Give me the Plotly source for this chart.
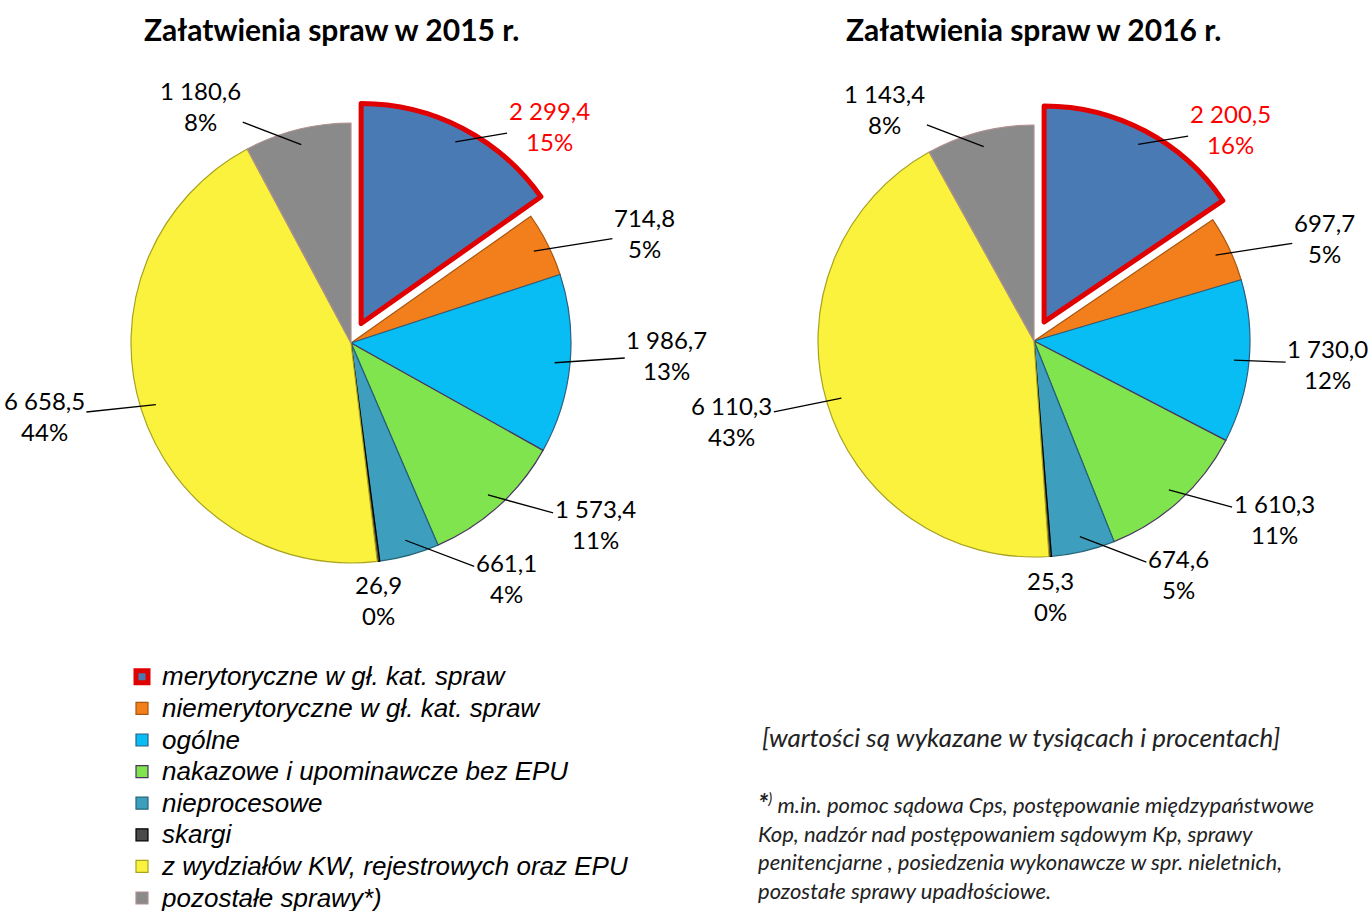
import math
import plotly.graph_objects as go

# ---------------- data ----------------
categories = [
    "merytoryczne w gł. kat. spraw",
    "niemerytoryczne w gł. kat. spraw",
    "ogólne",
    "nakazowe i upominawcze bez EPU",
    "nieprocesowe",
    "skargi",
    "z wydziałów KW, rejestrowych oraz EPU",
    "pozostałe sprawy*)",
]
values_2015 = [2299.4, 714.8, 1986.7, 1573.4, 661.1, 26.9, 6658.5, 1180.6]
values_2016 = [2200.5, 697.7, 1730.0, 1610.3, 674.6, 25.3, 6110.3, 1143.4]
percent_2015 = [15, 5, 13, 11, 4, 0, 44, 8]
percent_2016 = [16, 5, 12, 11, 5, 0, 43, 8]
titles = ["Załatwienia spraw w 2015 r.", "Załatwienia spraw w 2016 r."]
note_units = "[wartości są wykazane w tysiącach i procentach]"
note_lines = [
    "m.in. pomoc sądowa Cps, postępowanie międzypaństwowe",
    "Kop, nadzór nad postępowaniem sądowym Kp, sprawy",
    "penitencjarne , posiedzenia wykonawcze w spr. nieletnich,",
    "pozostałe sprawy upadłościowe.",
]

# ---------------- style ----------------
colors = ["#4a7ab4", "#f27f1b", "#08bdf4", "#7fe44e", "#3d9fbd", "#4a4a4a", "#fbf23e", "#8a8a8a"]
line_colors = ["#e00000", "#a9560f", "#2f5f80", "#4a3560", "#24657a", "#000000", "#a8a21c", "#b09090"]
line_widths = [5, 1.2, 1.2, 1.2, 1.2, 1.2, 1.2, 1.2]
pulls = [0.1, 0, 0, 0, 0, 0, 0, 0]
W, H = 1372, 911
FONT = "Lato"
LABEL_SIZE = 24

pies = [
    dict(values=values_2015, pct=percent_2015, cx=351, cy=343, r=220, title_x=331),
    dict(values=values_2016, pct=percent_2016, cx=1034, cy=341, r=216, title_x=1033),
]


def fmt_val(v):
    return format(v, ",.1f").replace(",", " ").replace(".", ",")


legend_labels = [f"<span style='font-size:26px'>{c}</span>" for c in categories]

fig = go.Figure()
labels = []  # label placement records
annotations = []
for i, p in enumerate(pies):
    half = p["r"] * (1 + max(pulls))
    dom_x = [(p["cx"] - half) / W, (p["cx"] + half) / W]
    dom_y = [1 - (p["cy"] + half) / H, 1 - (p["cy"] - half) / H]
    fig.add_trace(go.Pie(
        labels=legend_labels, values=p["values"], sort=False, direction="clockwise",
        rotation=0, pull=pulls, textinfo="none", hoverinfo="value+percent",
        marker=dict(colors=colors, line=dict(color=line_colors, width=line_widths)),
        domain=dict(x=dom_x, y=dom_y), showlegend=(i == 0),
    ))
    total = sum(p["values"])
    cum = 0.0
    for k, v in enumerate(p["values"]):
        a0 = cum / total * 360
        cum += v
        a1 = cum / total * 360
        mid = math.radians((a0 + a1) / 2)
        sx, sy = math.sin(mid), -math.cos(mid)
        r = p["r"]
        off = pulls[k] * r
        px = p["cx"] + (0.93 * r + off) * sx
        py = p["cy"] + (0.93 * r + off) * sy
        arrow = v / total >= 0.01
        side = 0.44 * (1 if sx > 0.2 else (-1 if sx < -0.2 else 0))
        text = f"{fmt_val(v)}<br>{p['pct'][k]}%"
        w = 0.48 * LABEL_SIZE * len(fmt_val(v))
        h = 2 * 1.3 * LABEL_SIZE
        tx = min(p["cx"] + r * (sx + side), W - w / 2 - 4)
        if arrow:
            ty = p["cy"] + 1.11 * r * sy
        else:
            ty = p["cy"] + r * sy + math.copysign(h / 2 + 8, sy)
        labels.append(dict(px=px, py=py, tx=tx, ty=ty, w=w, h=h, text=text,
                           arrow=arrow, color="#ff0000" if k == 0 else "#000000"))
    annotations.append(dict(
        x=p["title_x"] / W, y=1 - 29 / H, xref="paper", yref="paper",
        text=f"<b>{titles[i]}</b>", showarrow=False,
        font=dict(family=FONT, size=30, color="black"), xanchor="center", yanchor="middle",
    ))

# simple vertical collision relaxation between label boxes
for _ in range(60):
    moved = False
    for a in range(len(labels)):
        for b in range(a + 1, len(labels)):
            A, B = labels[a], labels[b]
            ox = (A["w"] + B["w"]) / 2 + 6 - abs(A["tx"] - B["tx"])
            oy = (A["h"] + B["h"]) / 2 + 2 - abs(A["ty"] - B["ty"])
            if ox > 0 and oy > 0:
                d = oy / 2 + 0.5
                if A["ty"] <= B["ty"]:
                    A["ty"] -= d
                    B["ty"] += d
                else:
                    A["ty"] += d
                    B["ty"] -= d
                moved = True
    if not moved:
        break

for L in labels:
    ann = dict(
        xref="paper", yref="paper", text=L["text"],
        showarrow=L["arrow"], arrowhead=0, arrowwidth=1.3,
        arrowcolor="black", standoff=0,
        font=dict(family=FONT, size=LABEL_SIZE, color=L["color"]), align="center",
    )
    if L["arrow"]:
        ann.update(x=L["px"] / W, y=1 - L["py"] / H, ax=L["tx"] - L["px"], ay=L["ty"] - L["py"])
    else:
        ann.update(x=L["tx"] / W, y=1 - L["ty"] / H, xanchor="center", yanchor="middle")
    annotations.append(ann)

annotations.append(dict(
    x=760 / W, y=1 - 737 / H, xref="paper", yref="paper", text=f"<i>{note_units}</i>",
    showarrow=False, xanchor="left", yanchor="middle",
    font=dict(family=FONT, size=26, color="#222222"),
))
note_text = ("<i><b><span style='font-size:26px'>*</span></b><sup>)</sup> "
             + "<br>".join(note_lines) + "</i>")
annotations.append(dict(
    x=756 / W, y=1 - 785 / H, xref="paper", yref="paper", text=note_text,
    showarrow=False, xanchor="left", yanchor="top", align="left",
    font=dict(family=FONT, size=22, color="#222222"),
))

fig.update_layout(
    width=W, height=H, margin=dict(l=0, r=0, t=0, b=0, autoexpand=False),
    paper_bgcolor="white", plot_bgcolor="white",
    annotations=annotations,
    legend=dict(
        x=122 / W, y=1 - 656 / H, xanchor="left", yanchor="top",
        font=dict(family="Liberation Sans", size=22, color="black", style="italic"),
        tracegroupgap=0, itemwidth=30, bgcolor="rgba(0,0,0,0)",
    ),
    font=dict(family=FONT),
)

fig.write_html("out.html", config={"displayModeBar": False},
               post_script="document.body.style.margin='0';")
